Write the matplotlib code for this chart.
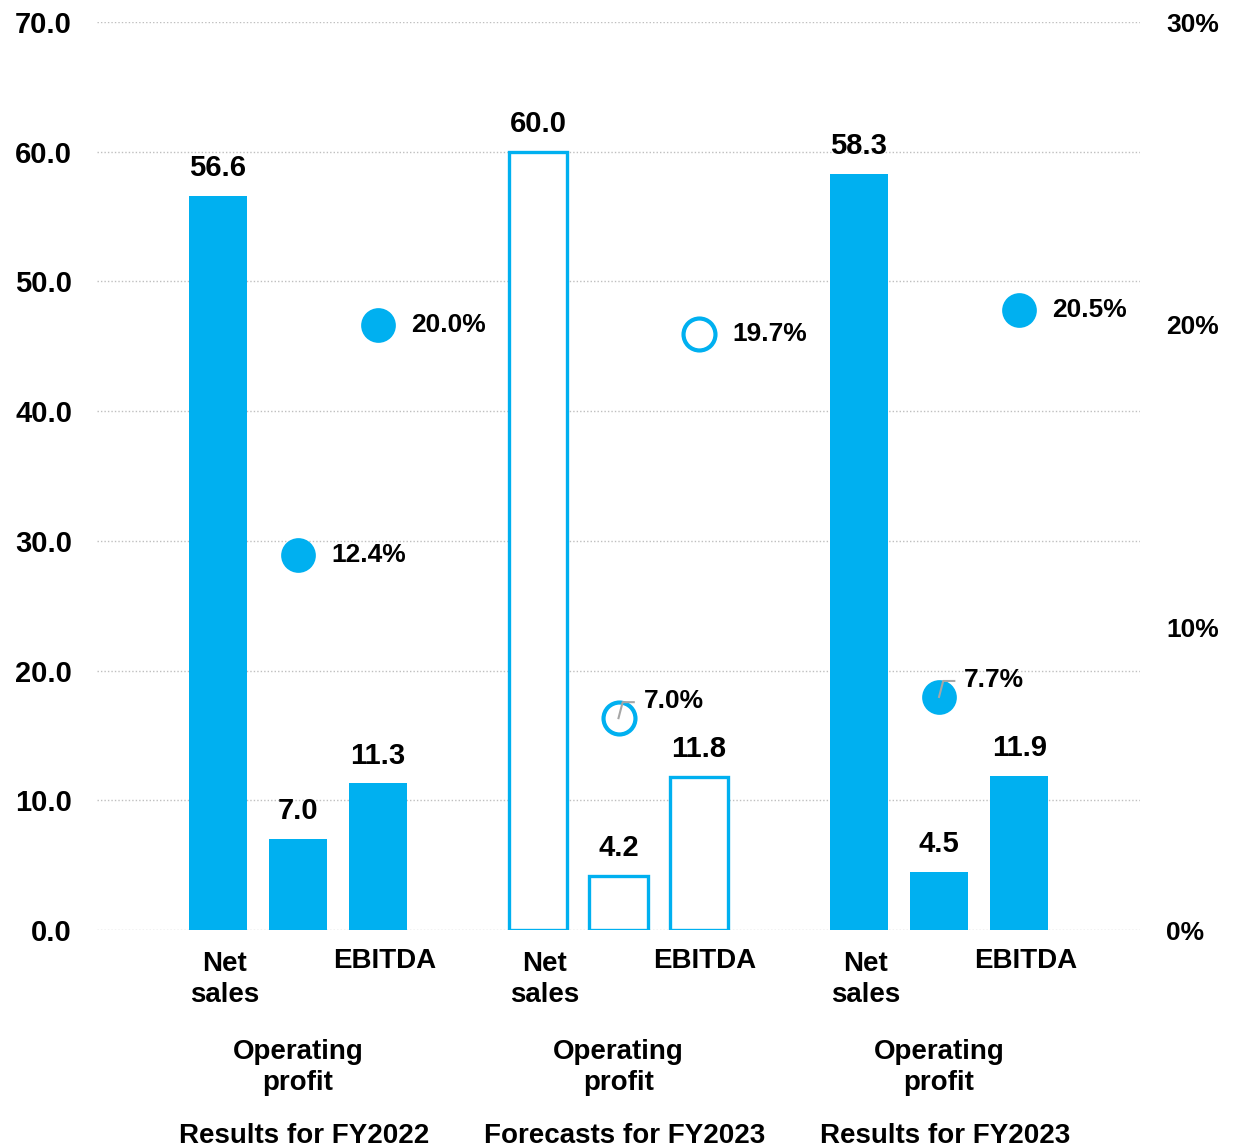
import matplotlib.pyplot as plt
from matplotlib.lines import Line2D
from matplotlib.transforms import blended_transform_factory, ScaledTranslation

plt.rcParams['font.family'] = ['Liberation Sans', 'DejaVu Sans']

BLUE = '#00B0F0'
GREY = '#A6A6A6'

periods = ['Results for FY2022', 'Forecasts for FY2023', 'Results for FY2023']
net_sales = [56.6, 60.0, 58.3]
operating_profit = [7.0, 4.2, 4.5]
ebitda = [11.3, 11.8, 11.9]
op_margin = [12.4, 7.0, 7.7]        # %
ebitda_margin = [20.0, 19.7, 20.5]  # %
is_forecast = [False, True, False]

fig = plt.figure(figsize=(12.34, 11.48), dpi=100)
ax = fig.add_axes([97 / 1234, 218 / 1148, 1043 / 1234, 908 / 1148])
ax2 = ax.twinx()

step = 0.25
width = 0.181

for i, period in enumerate(periods):
    hollow = is_forecast[i]
    xs = [i - step, i, i + step]
    vals = [net_sales[i], operating_profit[i], ebitda[i]]
    for x, v in zip(xs, vals):
        if hollow:
            ax.bar(x, v, width=width, facecolor='white', edgecolor=BLUE, linewidth=2.4, zorder=3)
        else:
            ax.bar(x, v, width=width, color=BLUE, linewidth=0, zorder=3)
        ax.annotate(f'{v:.1f}', (x, v), xytext=(0, 10), textcoords='offset points',
                    ha='center', va='bottom', fontsize=21, fontweight='bold')

    # margin markers on the right axis
    for x, pct in [(i, op_margin[i]), (i + step, ebitda_margin[i])]:
        if hollow:
            ax2.plot(x, pct, 'o', ms=23, mfc='white', mec=BLUE, mew=3, zorder=4)
        else:
            ax2.plot(x, pct, 'o', ms=25, mfc=BLUE, mec=BLUE, mew=0, zorder=4)
        if pct < 10:
            # small elbow leader from the marker centre up to the label
            anchor = fig.dpi_scale_trans + ScaledTranslation(x, pct, ax2.transData)
            ax2.add_line(Line2D([0, 3 / 72, 11 / 72], [0, 11.5 / 72, 11.5 / 72],
                                transform=anchor, color=GREY, lw=1.5, zorder=5))
            ax2.annotate(f'{pct:.1f}%', (x, pct), xytext=(18, 12), textcoords='offset points',
                         ha='left', va='center', fontsize=19, fontweight='bold')
        else:
            ax2.annotate(f'{pct:.1f}%', (x, pct), xytext=(24, 0), textcoords='offset points',
                         ha='left', va='center', fontsize=19, fontweight='bold')

# category labels below the bars
trans = blended_transform_factory(ax.transData, fig.transFigure)
dx = 0.02
lab_kw = dict(ha='center', fontsize=20, fontweight='bold', transform=trans, linespacing=1.25)
for i, period in enumerate(periods):
    ax.text(i - step + dx, 0.147, 'Net\nsales', va='center', **lab_kw)
    ax.text(i + step + dx, 0.163, 'EBITDA', va='center', **lab_kw)
    ax.text(i, 0.070, 'Operating\nprofit', va='center', **lab_kw)
    ax.text(i + dx, 0.0044, period, va='baseline', **lab_kw)

ax.set_xlim(-0.627, 2.627)
ax.set_ylim(0, 70)
ax.set_yticks(range(0, 71, 10))
ax.set_yticklabels([f'{v:.1f}' for v in range(0, 71, 10)], fontweight='bold', fontsize=21)
ax.set_xticks([])
ax2.set_ylim(0, 30)
ax2.set_yticks([0, 10, 20, 30])
ax2.set_yticklabels([f'{v}%' for v in [0, 10, 20, 30]], fontweight='bold', fontsize=19)

ax.grid(axis='y', color='#BFBFBF', linestyle=(0, (1, 1.5)), linewidth=1)
ax.set_axisbelow(True)
for a in (ax, ax2):
    for s in a.spines.values():
        s.set_visible(False)
    a.tick_params(length=0)
ax.tick_params(axis='y', pad=18)
ax2.tick_params(axis='y', pad=19)

fig.savefig('out.png', dpi=100)
